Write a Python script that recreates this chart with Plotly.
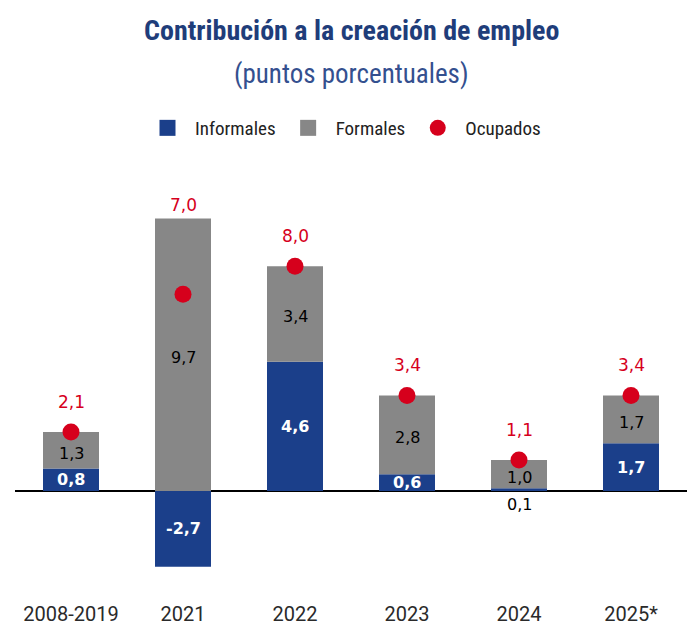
import plotly.graph_objects as go

periodos = ["2008-2019", "2021", "2022", "2023", "2024", "2025*"]
informales = [0.8, -2.7, 4.6, 0.6, 0.1, 1.7]
formales = [1.3, 9.7, 3.4, 2.8, 1.0, 1.7]
ocupados = [2.1, 7.0, 8.0, 3.4, 1.1, 3.4]

AZUL = "#1b3f8a"
GRIS = "#878787"
ROJO = "#d6001c"
NUM_FONT = "DejaVu Sans, Verdana, sans-serif"
TXT_FONT = "Liberation Sans Narrow, Roboto Condensed, Roboto, sans-serif"

# la pagina deja 8px de margen, asi que la figura se reduce en 8px
W, H = 692, 624
TOP, BOT = 160, 600  # area de trazado en px de la imagen


def coma(v):
    return f"{v:.1f}".replace(".", ",")


def ypap(px):
    return (BOT - px) / (BOT - TOP)


xs = list(range(len(periodos)))

fig = go.Figure()
fig.add_trace(go.Bar(x=xs, y=informales, name="Informales", marker_color=AZUL,
                     width=0.5, marker_line_width=0, showlegend=False))
fig.add_trace(go.Bar(x=xs, y=formales, name="Formales", marker_color=GRIS,
                     width=0.5, marker_line_width=0, showlegend=False))
fig.add_trace(go.Scatter(x=xs, y=ocupados, name="Ocupados", mode="markers",
                         marker=dict(color=ROJO, size=17), showlegend=False))

# entradas de leyenda
for nombre, color, simbolo in [("Informales", AZUL, "square"), ("Formales", GRIS, "square"),
                               ("Ocupados", ROJO, "circle")]:
    fig.add_trace(go.Scatter(x=[None], y=[None], mode="markers", name=nombre,
                             marker=dict(color=color, size=17, symbol=simbolo)))

# etiquetas de los segmentos
for i, inf, frm, ocu in zip(xs, informales, formales, ocupados):
    base_frm = max(inf, 0)
    if abs(inf) >= 0.5:
        fig.add_annotation(x=i, y=inf / 2, text="<b>" + coma(inf) + "</b>", showarrow=False,
                           font=dict(family=NUM_FONT, size=16, color="white"))
    else:
        fig.add_annotation(x=i, y=0, yanchor="top", yshift=-2, text=coma(inf), showarrow=False,
                           font=dict(family=NUM_FONT, size=16, color="black"))
    fig.add_annotation(x=i, y=base_frm + frm / 2, yshift=-3, text=coma(frm), showarrow=False,
                       font=dict(family=NUM_FONT, size=16, color="black"))
    tope = max(base_frm + frm, ocu)
    shift = 18 if ocu >= base_frm + frm - 0.05 else 1
    fig.add_annotation(x=i, y=tope, yanchor="bottom", yshift=shift, text=coma(ocu),
                       showarrow=False, font=dict(family=NUM_FONT, size=17, color=ROJO))

fig.add_annotation(xref="paper", yref="paper", x=0.5, y=ypap(30), yanchor="middle",
                   showarrow=False, text="<b>Contribución a la creación de empleo</b>",
                   font=dict(family=TXT_FONT, size=28, color="#1f3d7a"))
fig.add_annotation(xref="paper", yref="paper", x=0.5, y=ypap(74), yanchor="middle",
                   showarrow=False, text="(puntos porcentuales)",
                   font=dict(family=TXT_FONT, size=27, color="#34508f"))

fig.update_layout(
    width=W, height=H,
    margin=dict(l=7, r=13, t=TOP - 8, b=H - (BOT - 8), autoexpand=False),
    barmode="relative",
    plot_bgcolor="white", paper_bgcolor="white",
    showlegend=True,
    legend=dict(orientation="h", x=0.5 - 8 / 672, xanchor="center", y=1 - 120 / H,
                yanchor="middle", yref="container",
                font=dict(family=TXT_FONT, size=19, color="#222222"),
                traceorder="normal", itemwidth=45),
    xaxis=dict(range=[-0.5, 5.5], tickmode="array", tickvals=xs, ticktext=periodos,
               showgrid=False, showline=False, ticks="", zeroline=False,
               tickfont=dict(family="Roboto, sans-serif", size=20, color="#2a2a2a")),
    yaxis=dict(range=[-3.88, 11.78], showgrid=False, showticklabels=False,
               zeroline=True, zerolinecolor="black", zerolinewidth=2),
)

fig.write_html("out.html")
